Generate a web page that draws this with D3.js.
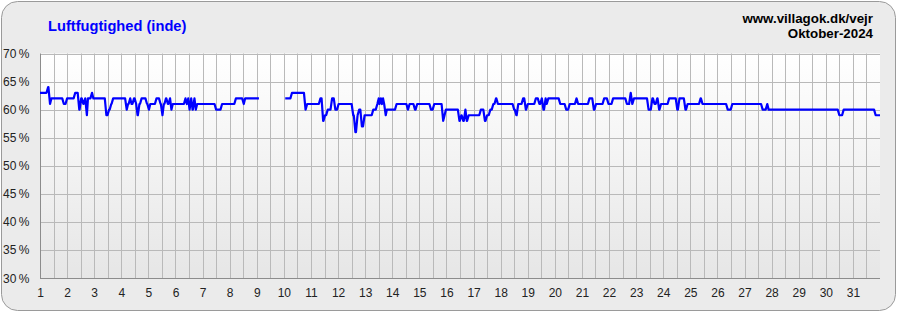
<!DOCTYPE html>
<html>
<head>
<meta charset="utf-8">
<script src="https://cdn.jsdelivr.net/npm/d3@7"></script>
<style>
  body { margin: 0; background: #fff; }
  text { font-family: Arial, "Liberation Sans", sans-serif; }
</style>
</head>
<body>
<svg id="chart" width="897" height="312"></svg>
<script>
// labels
var chartTitle = "Luftfugtighed (inde)";
var siteLabel = "www.villagok.dk/vejr";
var monthLabel = "Oktober-2024";
var dayTicks = d3.range(1, 32);
var pctTicks = [30, 35, 40, 45, 50, 55, 60, 65, 70];

// humidity readings: time in days (1 = 1 Oct 00:00), value holds until next reading
// null marks missing data
var times = [1.00,1.30,1.37,1.42,1.88,2.00,2.30,2.45,2.52,2.60,2.67,2.73,2.77,2.92,2.97,
  3.45,3.55,3.63,3.70,4.20,4.25,4.33,4.38,4.47,4.55,4.60,4.67,4.75,4.95,5.02,5.07,5.30,
  5.45,5.52,5.57,5.65,5.72,5.80,5.85,5.90,6.37,6.42,6.47,6.52,6.58,6.63,6.70,6.75,6.80,
  7.50,7.72,8.23,8.52,8.57,9.08,9.09,
  10.05,10.30,10.80,10.86,11.35,11.45,11.52,11.62,11.78,11.90,12.02,12.56,12.64,12.72,
  12.78,12.88,12.98,13.30,13.45,13.50,13.53,13.58,13.62,13.66,13.70,13.76,13.80,14.16,
  14.58,14.64,14.84,14.92,15.43,15.55,15.88,15.93,15.98,16.48,16.55,16.62,16.70,16.75,
  16.82,17.27,17.42,17.50,17.62,17.73,17.83,17.90,18.50,18.58,18.65,18.83,18.93,19.00,
  19.30,19.43,19.52,19.58,19.66,19.70,19.76,20.20,20.42,20.55,20.80,20.86,21.28,21.44,
  21.52,21.82,21.98,22.15,22.66,22.80,22.86,22.92,23.46,23.60,23.68,23.78,23.85,23.92,
  24.22,24.52,24.60,24.82,24.90,25.38,25.45,26.38,26.55,27.67,27.84,27.89,30.50,30.66,
  31.84,32.00];
var values = [63,64,61,62,61,62,63,60,62,61,62,59,62,63,62,
  59,60,61,62,60,61,62,61,62,61,59,61,62,61,60,61,62,
  61,59,61,62,61,62,60,61,62,61,62,60,62,60,62,60,61,
  60,61,62,61,62,62,null,
  62,63,60,61,62,58,59,60,62,60,61,59,56,59,
  60,57,59,60,61,62,61,62,61,62,61,59,60,61,
  60,61,60,61,60,61,58,59,60,58,59,58,60,58,
  59,60,58,59,60,61,62,61,60,59,61,62,60,61,
  62,61,62,60,62,61,62,61,60,61,62,61,62,60,
  61,62,61,62,61,63,61,62,60,62,61,62,60,61,
  62,60,62,60,61,62,61,60,61,60,61,60,59,60,
  59,59];

var W = 897, H = 312;
var svg = d3.select("#chart");

var x = d3.scaleLinear().domain([1, 32]).range([40, 880]);
var y = d3.scaleLinear().domain([30, 70]).range([278, 53.5]);

// background panel
svg.append("rect")
  .attr("x", 1.5).attr("y", 1.5)
  .attr("width", W - 3).attr("height", H - 3)
  .attr("rx", 16).attr("ry", 16)
  .style("fill", "#ebebeb")
  .style("stroke", "#9a9a9a");

var grad = svg.append("defs").append("linearGradient")
  .attr("id", "plotGrad").attr("x1", 0).attr("y1", 0).attr("x2", 0).attr("y2", 1);
grad.append("stop").attr("offset", "0%").attr("stop-color", "#ffffff");
grad.append("stop").attr("offset", "100%").attr("stop-color", "#e6e6e6");

svg.append("rect")
  .attr("x", x(1)).attr("y", y(70))
  .attr("width", x(32) - x(1)).attr("height", y(30) - y(70))
  .style("fill", "url(#plotGrad)");

// grid: vertical lines every half day
var halfDays = d3.range(1.5, 32, 0.5);
svg.append("g").selectAll("line").data(halfDays).enter().append("line")
  .attr("x1", function(d) { return Math.round(x(d)) + 0.5; })
  .attr("x2", function(d) { return Math.round(x(d)) + 0.5; })
  .attr("y1", y(70)).attr("y2", y(30))
  .style("stroke", "#b9b9b9").style("stroke-width", 1);

svg.append("g").selectAll("line").data(pctTicks.slice(1)).enter().append("line")
  .attr("x1", x(1)).attr("x2", x(32))
  .attr("y1", function(d) { return Math.round(y(d)) + 0.5; })
  .attr("y2", function(d) { return Math.round(y(d)) + 0.5; })
  .style("stroke", "#b9b9b9").style("stroke-width", 1);

// plot frame
svg.append("line")
  .attr("x1", x(1) + 0.5).attr("x2", x(1) + 0.5)
  .attr("y1", y(70)).attr("y2", y(30) + 1)
  .style("stroke", "#8c8c8c");
svg.append("line")
  .attr("x1", x(1)).attr("x2", x(32))
  .attr("y1", Math.round(y(30)) + 0.5).attr("y2", Math.round(y(30)) + 0.5)
  .style("stroke", "#8c8c8c");

// axes labels
var xAxis = d3.axisBottom(x).tickValues(dayTicks).tickSize(0).tickPadding(10)
  .tickFormat(d3.format("d"));
var gx = svg.append("g").attr("transform", "translate(0," + y(30) + ")").call(xAxis);
gx.select(".domain").remove();
gx.selectAll("text").style("font-size", "12px").style("fill", "#222")
  .style("font-family", "Arial, 'Liberation Sans', sans-serif");

svg.append("g").selectAll("text").data(pctTicks).enter().append("text")
  .attr("x", 3)
  .attr("y", function(d) { return y(d) + 4.5; })
  .style("font-size", "12px").style("fill", "#222")
  .text(function(d) { return d + "\u2009%"; });

// step curve with short sloped risers, like the logger's own plot
function slopedStep(context) {
  var px, py, started;
  return {
    areaStart: function() {}, areaEnd: function() {},
    lineStart: function() { started = false; },
    lineEnd: function() {},
    point: function(px1, py1) {
      if (!started) { context.moveTo(px1, py1); started = true; }
      else {
        context.lineTo(Math.max(px, px1 - 1.6), py);
        context.lineTo(px1, py1);
      }
      px = px1; py = py1;
    }
  };
}

// humidity line
var readings = times.map(function(t, i) { return {t: t, v: values[i]}; });
var line = d3.line()
  .defined(function(d) { return d.v !== null; })
  .x(function(d) { return x(d.t); })
  .y(function(d) { return y(d.v); })
  .curve(slopedStep);

svg.append("path")
  .datum(readings)
  .attr("d", line)
  .style("fill", "none")
  .style("stroke", "#0000ff")
  .style("stroke-width", 2.2)
  .style("stroke-linejoin", "round");

// titles
svg.append("text")
  .attr("x", 48).attr("y", 30.5)
  .style("font-size", "14.67px").style("font-weight", "bold").style("fill", "#0000ff")
  .text(chartTitle);

svg.append("text")
  .attr("x", 873).attr("y", 23)
  .attr("text-anchor", "end")
  .style("font-size", "13.33px").style("font-weight", "bold").style("fill", "#000")
  .text(siteLabel);
svg.append("text")
  .attr("x", 873).attr("y", 38)
  .attr("text-anchor", "end")
  .style("font-size", "13.33px").style("font-weight", "bold").style("fill", "#000")
  .text(monthLabel);
</script>
</body>
</html>
